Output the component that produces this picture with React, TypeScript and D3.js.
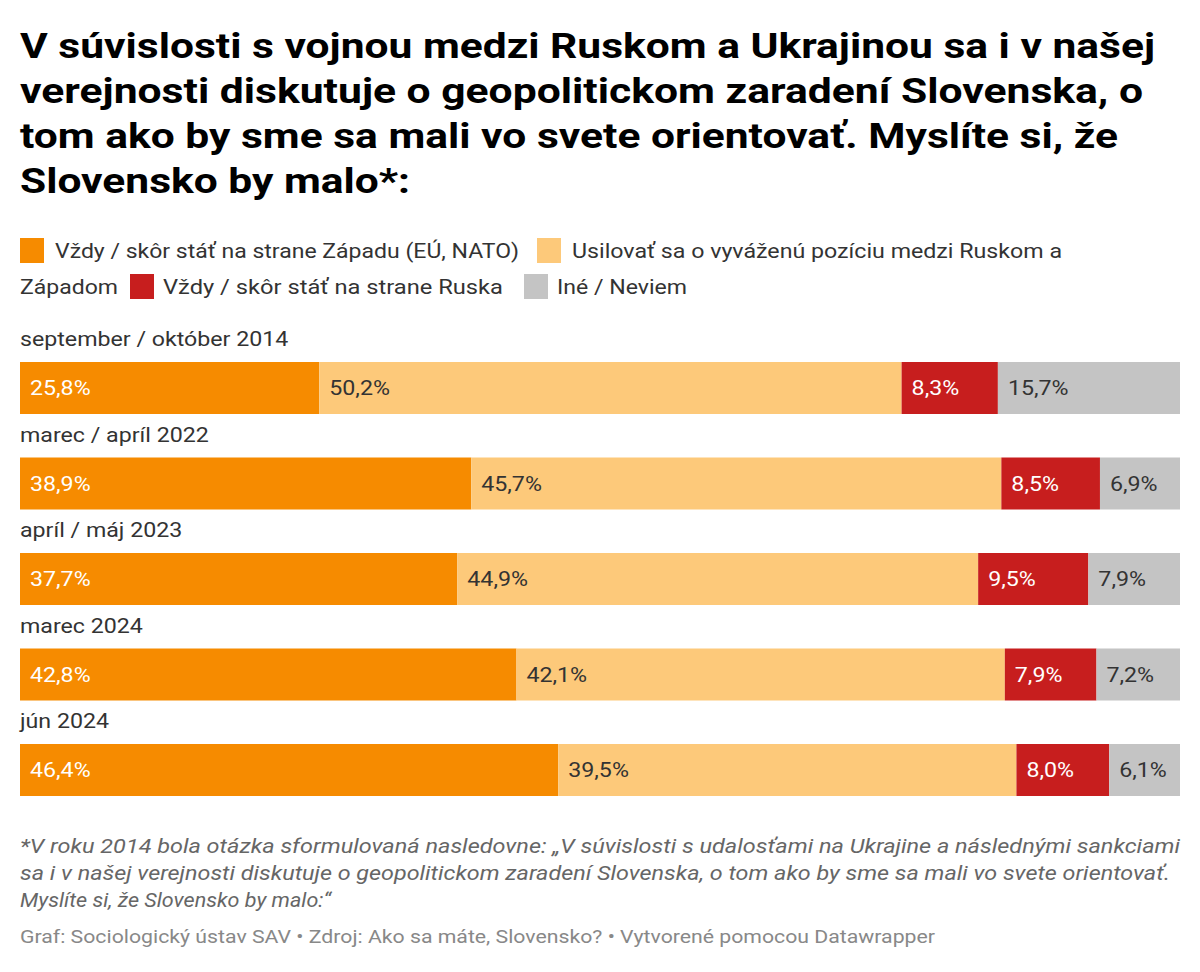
import React from 'react';
import * as d3 from 'd3';

const titleLines = [
  'V súvislosti s vojnou medzi Ruskom a Ukrajinou sa i v našej',
  'verejnosti diskutuje o geopolitickom zaradení Slovenska, o',
  'tom ako by sme sa mali vo svete orientovať. Myslíte si, že',
  'Slovensko by malo*:',
];
// right edge of each title line in the reference
const titleEnds = [1155, 1143, 1118, 410];

const seriesNames = [
  'Vždy / skôr stáť na strane Západu (EÚ, NATO)',
  'Usilovať sa o vyváženú pozíciu medzi Ruskom a Západom',
  'Vždy / skôr stáť na strane Ruska',
  'Iné / Neviem',
];
const seriesColors = ['#f68b00', '#fdc97a', '#c71e1e', '#c4c4c4'];
const labelColors = ['#ffffff', '#333333', '#ffffff', '#333333'];

const periods = ['september / október 2014', 'marec / apríl 2022', 'apríl / máj 2023', 'marec 2024', 'jún 2024'];
const west = [25.8, 38.9, 37.7, 42.8, 46.4];
const balanced = [50.2, 45.7, 44.9, 42.1, 39.5];
const russia = [8.3, 8.5, 9.5, 7.9, 8.0];
const other = [15.7, 6.9, 7.9, 7.2, 6.1];

const noteLines = [
  '*V roku 2014 bola otázka sformulovaná nasledovne: „V súvislosti s udalosťami na Ukrajine a následnými sankciami',
  'sa i v našej verejnosti diskutuje o geopolitickom zaradení Slovenska, o tom ako by sme sa mali vo svete orientovať.',
  'Myslíte si, že Slovensko by malo:“',
];
const noteEnds = [1180, 1170, 331];
const sourceLine = 'Graf: Sociologický ústav SAV • Zdroj: Ako sa máte, Slovensko? • Vytvorené pomocou Datawrapper';

const W = 1200;
const H = 972;
const font = 'Roboto, sans-serif';
const SX = 1.16; // the reference text is a bit wider than plain Roboto

// text squeezed/stretched to a known width
const Fit = ({ x, y, end, children, ...rest }: any) => (
  <text x={x} y={y} textLength={end - x} lengthAdjust="spacingAndGlyphs" {...rest}>{children}</text>
);
// text widened by SX from its left edge
const Wide = ({ x, y, children, ...rest }: any) => (
  <text transform={`translate(${x},${y}) scale(${SX},1)`} {...rest}>{children}</text>
);

export default function App() {
  const rows = periods.map((p, i) => ({ period: p, values: [west[i], balanced[i], russia[i], other[i]] }));
  const x = d3.scaleLinear().domain([0, 100]).range([20, 1180]);
  const y = d3.scaleBand().domain(periods).range([315, 315 + 95.5 * periods.length]);
  const fmt = (v: number) => d3.format('.1f')(v).replace('.', ',') + '%';

  return (
    <svg width={W} height={H} style={{ display: 'block', margin: '-8px', background: '#fff' }} fontFamily={font}>
      <rect width={W} height={H} fill="#fff" />
      {titleLines.map((t, i) => (
        <Fit key={i} x={20} y={58 + i * 45} end={titleEnds[i]} fontSize={35} fontWeight={700} fill="#000">{t}</Fit>
      ))}

      {/* legend, wraps over two lines */}
      <g fontSize={20} fill="#333">
        <rect x={20} y={238} width={24} height={25} fill={seriesColors[0]} />
        <Fit x={55} y={258} end={519}>{seriesNames[0]}</Fit>
        <rect x={537} y={238} width={24} height={25} fill={seriesColors[1]} />
        <Fit x={572} y={258} end={1062}>Usilovať sa o vyváženú pozíciu medzi Ruskom a</Fit>
        <Fit x={20} y={294} end={118}>Západom</Fit>
        <rect x={130} y={274} width={24} height={25} fill={seriesColors[2]} />
        <Fit x={163} y={294} end={503}>{seriesNames[2]}</Fit>
        <rect x={524} y={274} width={24} height={25} fill={seriesColors[3]} />
        <Fit x={557} y={294} end={687}>{seriesNames[3]}</Fit>
      </g>

      {rows.map((r) => {
        const y0 = y(r.period)!;
        const stack = d3.cumsum(r.values);
        return (
          <g key={r.period}>
            <Wide x={20} y={y0 + 31} fontSize={20} fill="#333">{r.period}</Wide>
            {r.values.map((v, j) => {
              const start = j === 0 ? 0 : stack[j - 1];
              return (
                <g key={j}>
                  <rect x={x(start)} y={y0 + 47} width={x(start + v) - x(start)} height={52} fill={seriesColors[j]} />
                  <Wide x={x(start) + 10} y={y0 + 80} fontSize={20} fill={labelColors[j]}>{fmt(v)}</Wide>
                </g>
              );
            })}
          </g>
        );
      })}

      {noteLines.map((t, i) => (
        <Fit key={i} x={20} y={853 + i * 27} end={noteEnds[i]} fontSize={20} fontStyle="italic" fill="#666">{t}</Fit>
      ))}
      <Fit x={20} y={943} end={935} fontSize={18} fill="#888">{sourceLine}</Fit>
    </svg>
  );
}
